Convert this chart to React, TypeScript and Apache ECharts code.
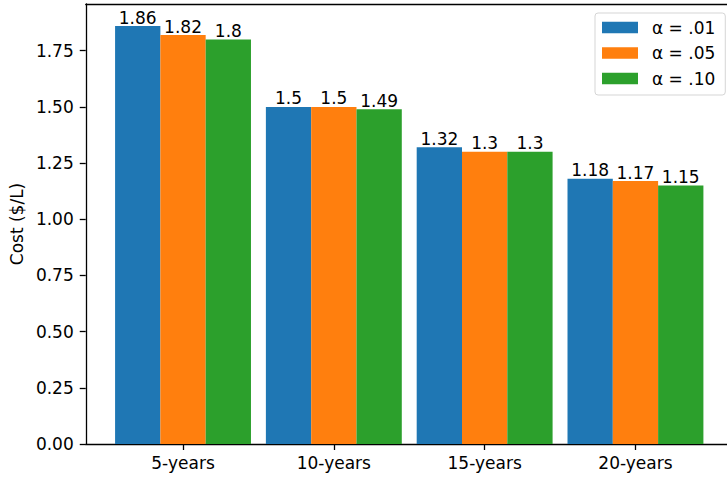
import React, { useEffect, useRef } from "react";
import * as echarts from "echarts";

const categories = ["5-years", "10-years", "15-years", "20-years"];
const seriesNames = ["α = .01", "α = .05", "α = .10"];
const alpha01 = [1.86, 1.5, 1.32, 1.18];
const alpha05 = [1.82, 1.5, 1.3, 1.17];
const alpha10 = [1.8, 1.49, 1.3, 1.15];
const yTicks = [0, 0.25, 0.5, 0.75, 1.0, 1.25, 1.5, 1.75];
const colors = ["#1f77b4", "#ff7f0e", "#2ca02c"];

const FONT = "DejaVu Sans";
const FS = 17;

export default function App() {
  const ref = useRef<HTMLDivElement>(null);

  useEffect(() => {
    if (!ref.current) return;
    const chart = echarts.init(ref.current, null, { renderer: "svg" });
    const values = [alpha01, alpha05, alpha10];
    const xIdx = categories.map((_, i) => i);
    const xMin = -0.645;
    const xMax = 3.607;

    chart.setOption({
      animation: false,
      textStyle: { fontFamily: FONT },
      grid: {
        left: 85,
        top: 4,
        right: 0,
        bottom: 34,
        show: false,
      },
      legend: {
        orient: "vertical",
        left: 595,
        top: 13,
        data: seriesNames,
        itemWidth: 36,
        itemHeight: 11.5,
        itemGap: 8.5,
        padding: [6, 10, 8, 7],
        backgroundColor: "#fff",
        borderColor: "#d5d5d5",
        borderWidth: 1,
        borderRadius: 3,
        icon: "rect",
        textStyle: {
          fontFamily: FONT,
          fontSize: FS,
          lineHeight: 17,
          color: "#000",
          padding: [0, 0, 0, 9],
        },
      },
      xAxis: [
        {
          type: "value",
          min: xMin,
          max: xMax,
          splitLine: { show: false },
          axisLine: { show: true, onZero: false, lineStyle: { color: "#000", width: 1.3 } },
          axisTick: {
            show: true,
            length: 6,
            customValues: xIdx,
            lineStyle: { color: "#000", width: 1.3 },
          },
          axisLabel: {
            customValues: xIdx,
            margin: 10,
            fontSize: FS,
            color: "#000",
            fontFamily: FONT,
            formatter: (v: number) => categories[Math.round(v)] ?? "",
          },
        },
        {
          // top frame line
          type: "value",
          position: "top",
          min: xMin,
          max: xMax,
          splitLine: { show: false },
          axisLine: { show: true, onZero: false, lineStyle: { color: "#000", width: 1.3 } },
          axisTick: { show: false },
          axisLabel: { show: false },
        },
      ],
      yAxis: {
        type: "value",
        min: 0,
        max: 1.958,
        name: "Cost ($/L)",
        nameLocation: "middle",
        nameGap: 58,
        nameTextStyle: { fontSize: FS, color: "#000", fontFamily: FONT },
        splitLine: { show: false },
        axisLine: { show: true, onZero: false, lineStyle: { color: "#000", width: 1.3 } },
        axisTick: {
          show: true,
          length: 6,
          customValues: yTicks,
          lineStyle: { color: "#000", width: 1.3 },
        },
        axisLabel: {
          customValues: yTicks,
          margin: 12,
          fontSize: FS,
          color: "#000",
          fontFamily: FONT,
          formatter: (v: number) => v.toFixed(2),
        },
      },
      series: seriesNames.map((name, s) => ({
        name,
        type: "bar",
        xAxisIndex: 0,
        barWidth: 45.3,
        barGap: "0%",
        itemStyle: { color: colors[s] },
        label: {
          show: true,
          position: "top",
          distance: 0,
          fontSize: FS,
          color: "#000",
          fontFamily: FONT,
          formatter: (p: any) => String(p.value[1]),
        },
        data: values[s].map((v, i) => [i, v]),
      })),
    });

    return () => chart.dispose();
  }, []);

  return <div ref={ref} style={{ width: 727, height: 478, position: "absolute", left: 0, top: 0 }} />;
}
